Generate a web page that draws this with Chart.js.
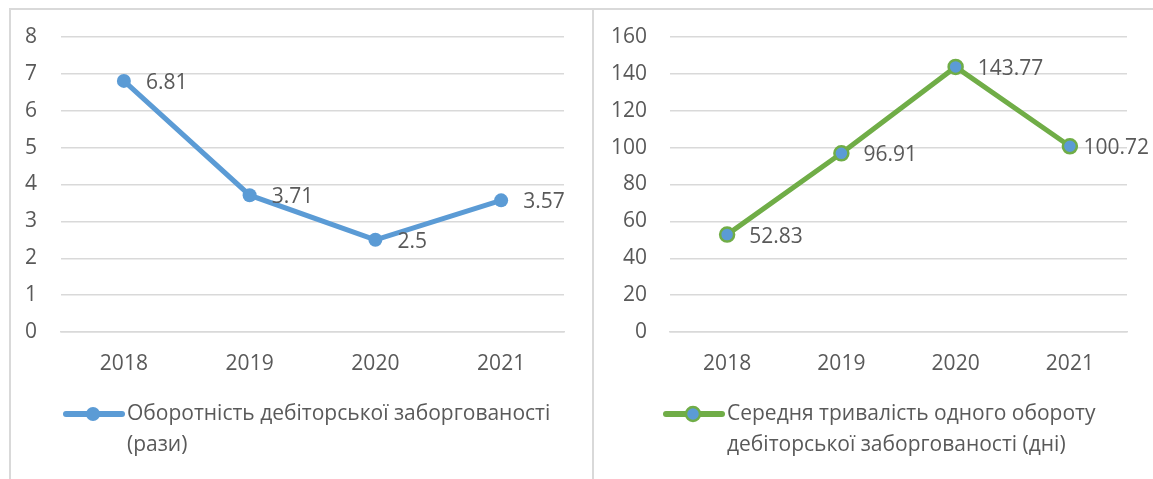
<!DOCTYPE html>
<html>
<head>
<meta charset="utf-8">
<script src="https://cdn.jsdelivr.net/npm/chart.js@4"></script>
<style>
  body { margin: 0; background: #fff; width: 1153px; height: 479px; overflow: hidden; position: relative; }
  #frame { position: absolute; left: 9px; top: 8px; width: 1160px; height: 480px; border-left: 2px solid #d9d9d9; border-top: 2px solid #d9d9d9; }
  #divider { position: absolute; left: 592px; top: 9px; width: 2px; height: 470px; background: #d9d9d9; }
  #left { position: absolute; left: 11px; top: 10px; }
  #right { position: absolute; left: 594px; top: 10px; }
</style>
</head>
<body>
<div id="frame"></div>
<div id="divider"></div>
<canvas id="left" width="580" height="469"></canvas>
<canvas id="right" width="559" height="469"></canvas>
<script>
const years = ['2018', '2019', '2020', '2021'];
const turnover = [6.81, 3.71, 2.5, 3.57];
const duration = [52.83, 96.91, 143.77, 100.72];
const turnoverLegend = ['Оборотність дебіторської заборгованості', '(рази)'];
const durationLegend = ['Середня тривалість одного обороту', 'дебіторської заборгованості (дні)'];

const FONT = '"Open Sans", "DejaVu Sans", sans-serif';
const FSIZE = 21;
const TEXT = '#595959';
const GRID = '#d9d9d9';

// value labels to the right of each point, pushed back in if they run off the canvas
const valueLabels = {
    id: 'valueLabels',
    afterDatasetsDraw(chart) {
        const ctx = chart.ctx;
        ctx.save();
        ctx.font = FSIZE + 'px ' + FONT;
        ctx.fillStyle = TEXT;
        ctx.textBaseline = 'middle';
        chart.data.datasets.forEach((ds, i) => {
            chart.getDatasetMeta(i).data.forEach((pt, j) => {
                const txt = String(ds.data[j]);
                const w = ctx.measureText(txt).width;
                let x = pt.x + 22;
                if (x + w > chart.width - 4) x = chart.width - 4 - w;
                ctx.fillText(txt, x, pt.y + 2);
            });
        });
        ctx.restore();
    }
};

// excel-like legend: line with marker and two lines of text
const lineLegend = {
    id: 'lineLegend',
    afterDraw(chart, args, opts) {
        const ctx = chart.ctx;
        const ds = chart.data.datasets[0];
        const x = opts.x, y = opts.y;
        ctx.save();
        ctx.strokeStyle = ds.borderColor;
        ctx.lineWidth = 6;
        ctx.lineCap = 'round';
        ctx.beginPath();
        ctx.moveTo(x, y);
        ctx.lineTo(x + 56, y);
        ctx.stroke();
        ctx.beginPath();
        ctx.arc(x + 27, y, 7, 0, Math.PI * 2);
        ctx.fillStyle = ds.pointBackgroundColor;
        ctx.fill();
        if (ds.pointBorderWidth) {
            ctx.lineWidth = ds.pointBorderWidth;
            ctx.strokeStyle = ds.pointBorderColor;
            ctx.stroke();
        }
        ctx.font = FSIZE + 'px ' + FONT;
        ctx.fillStyle = TEXT;
        ctx.textBaseline = 'middle';
        opts.text.forEach((t, i) => ctx.fillText(t, x + 61, y + i * 31));
        ctx.restore();
    }
};

function makeChart(id, data, max, step, yWidth, yPad, rightPad, legendText, legendX, style) {
    return new Chart(document.getElementById(id), {
        type: 'line',
        data: {
            labels: years,
            datasets: [Object.assign({
                data: data,
                borderWidth: 5,
                tension: 0,
                pointRadius: 7,
                pointHoverRadius: 7
            }, style)]
        },
        options: {
            responsive: false,
            animation: false,
            layout: { padding: { left: 0, right: rightPad, top: 27, bottom: 87 } },
            plugins: {
                legend: { display: false },
                tooltip: { enabled: false },
                lineLegend: { x: legendX, y: 404, text: legendText }
            },
            scales: {
                x: {
                    offset: true,
                    grid: { display: false, drawTicks: false },
                    border: { display: true, color: GRID, width: 1.5 },
                    ticks: { color: TEXT, font: { family: FONT, size: FSIZE }, padding: 19 },
                    afterFit: s => { s.height = 60; }
                },
                y: {
                    min: 0,
                    max: max,
                    ticks: { stepSize: step, color: TEXT, font: { family: FONT, size: FSIZE }, padding: yPad },
                    grid: { color: GRID, lineWidth: 1.5, drawTicks: false },
                    border: { display: false },
                    afterFit: s => { s.width = yWidth; s.paddingTop = 0; s.paddingBottom = 0; }
                }
            }
        },
        plugins: [valueLabels, lineLegend]
    });
}

makeChart('left', turnover, 8, 1, 50, 24, 27, turnoverLegend, 55, {
    borderColor: '#5B9BD5',
    pointBackgroundColor: '#5B9BD5',
    pointBorderColor: '#5B9BD5',
    pointBorderWidth: 0
});

makeChart('right', duration, 160, 20, 76, 23, 26, durationLegend, 72, {
    borderColor: '#70AD47',
    pointBackgroundColor: '#5B9BD5',
    pointBorderColor: '#70AD47',
    pointBorderWidth: 2.5
});
</script>
</body>
</html>
